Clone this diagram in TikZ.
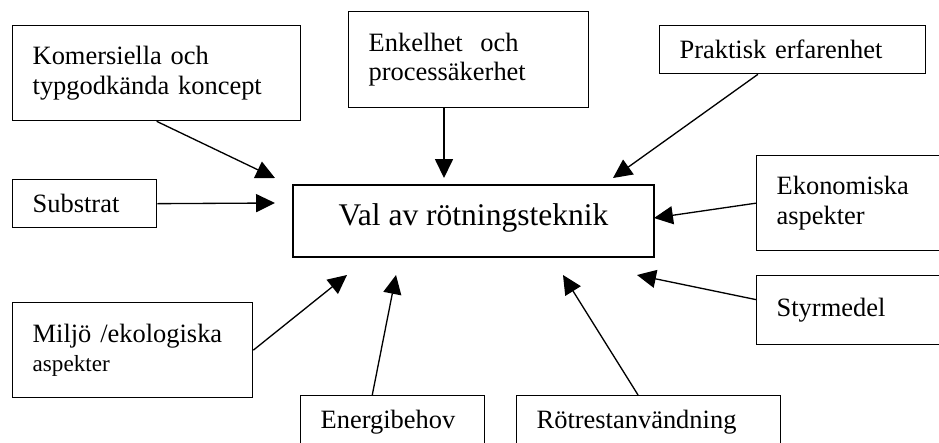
\documentclass[tikz,border=0pt]{standalone}
\usepackage{fontspec}
\setmainfont{Liberation Serif}
\usetikzlibrary{arrows.meta, calc}

\newlength{\pxu}
\setlength{\pxu}{0.4537pt}

\tikzset{
	factor/.style = {draw, rectangle, anchor = north west, align = left, inner xsep = 20\pxu, inner ysep = 0pt, font = \fontsize{12}{13.2}\selectfont},
	choice/.style = {draw, rectangle, minimum width = 361\pxu, minimum height = 72\pxu, text depth = 0.6em, font = \fontsize{14.3}{16}\selectfont},
}

\begin{document}
\begin{tikzpicture}[x = 0.4537pt, y = -0.4537pt, line width = 0.6pt]
						\useasboundingbox (0,0) rectangle (939,442);
						\clip (0,0) rectangle (939,442);

						% the choice in the middle
						\node [choice] (val) at (473.5,221) {Val av rötningsteknik};

						% what it depends on
						\begin{scope}
							\node [factor, text width = 248\pxu, minimum height = 95\pxu] (kom) at (12,25) {Komersiella och\\typgodkända koncept};
							\node [factor, text width = 200\pxu, minimum height = 96\pxu] (enk) at (348,11) {Enkelhet\ \ och\\processäkerhet};
							\node [factor, text width = 226\pxu, minimum height = 48\pxu] (prak) at (659,25) {Praktisk erfarenhet};
							\node [factor, text width = 104\pxu, minimum height = 48\pxu] (subs) at (12,179) {Substrat};
							\node [factor, text width = 190\pxu, minimum height = 95\pxu] (ekon) at (756,155) {Ekonomiska\\aspekter};
							\node [factor, text width = 190\pxu, minimum height = 69\pxu] (styr) at (756,275) {Styrmedel};
							\node [factor, text width = 200\pxu, minimum height = 95\pxu] (milj) at (12,302) {Miljö /ekologiska\\{\fontsize{10.5}{13.2}\selectfont aspekter}};
							\node [factor, text width = 144\pxu, minimum height = 54\pxu] (ener) at (300,395) {Energibehov};
							\node [factor, text width = 224\pxu, minimum height = 54\pxu] (rot) at (516,395) {Rötrestanvändning};
						\end{scope}

						% where the arrow heads stop
						\coordinate (tkom) at (275,178);
						\coordinate (tsubs) at (275,203);
						\coordinate (tenk) at (444,178);
						\coordinate (tprak) at (613,178);
						\coordinate (tekon) at (654,218);
						\coordinate (tstyr) at (637,275);
						\coordinate (trot) at (563,275);
						\coordinate (tener) at (396,275);
						\coordinate (tmilj) at (347,275);

						\begin{scope}[-{Triangle[length = 8.6pt, width = 8.2pt]}]
							\draw (kom.south) -- (tkom);
							\draw (subs.east) -- (tsubs);
							\draw (enk.south -| tenk) -- (tenk);
							\draw ($(prak.south west)!0.37!(prak.south east)$) -- (tprak);
							\draw (ekon.west) -- (tekon);
							\draw ($(styr.north west)!0.35!(styr.south west)$) -- (tstyr);
							\draw ($(rot.north west)!0.46!(rot.north east)$) -- (trot);
							\draw ($(ener.north west)!0.39!(ener.north east)$) -- (tener);
							\draw (milj.east) -- (tmilj);
						\end{scope}
					\end{tikzpicture}
\end{document}
